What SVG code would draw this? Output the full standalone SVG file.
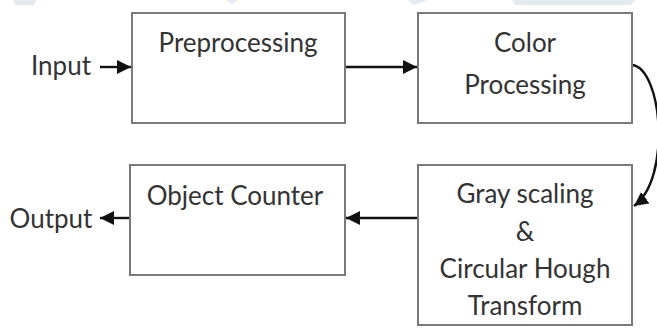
<svg xmlns="http://www.w3.org/2000/svg" width="657" height="329" viewBox="0 0 657 329">
<defs>
<style>
.box{fill:#fff;stroke:#7a7a7a;stroke-width:2}
.t{font-family:Lato,"Open Sans","Liberation Sans",sans-serif;font-size:26px;fill:#333;text-anchor:middle}
.c{fill:none;stroke:#111;stroke-width:2.4}
.wm{fill:#e3eaf0}
</style>
<marker id="ahb" viewBox="0 0 10 10" refX="10" refY="5" markerWidth="14" markerHeight="14" markerUnits="userSpaceOnUse" orient="auto">
<path d="M0,0 L10,5 L0,10 z" fill="#111"/>
</marker>
</defs>
<rect width="657" height="329" fill="#fff"/>
<g id="watermark">
<polygon class="wm" points="13,0 36,0 34,5 15,5"/>
<polygon class="wm" points="226,0 238,0 232,4"/>
<polygon class="wm" points="408,0 428,0 414,5"/>
<polygon class="wm" points="512,0 635,0 631,5 515,5"/>
</g>
<g id="connectors">
<line class="c" x1="100" y1="67" x2="131" y2="67" marker-end="url(#ahb)"/>
<line class="c" x1="345" y1="67" x2="417" y2="67" marker-end="url(#ahb)"/>
<path class="c" d="M632,65 C662,68 672,178 634,206" marker-end="url(#ahb)"/>
<line class="c" x1="418" y1="218" x2="346" y2="218" marker-end="url(#ahb)"/>
<line class="c" x1="130" y1="218" x2="100" y2="218" marker-end="url(#ahb)"/>
</g>
<g id="input"><text class="t" x="61" y="75">Input</text></g>
<g id="output"><text class="t" x="51" y="228">Output</text></g>
<g id="preprocessing">
<rect class="box" x="132" y="13" width="213" height="110"/>
<text class="t" x="238" y="52">Preprocessing</text>
</g>
<g id="color-processing">
<rect class="box" x="418" y="13" width="214" height="110"/>
<text class="t" x="525" y="52">Color</text>
<text class="t" x="525" y="94">Processing</text>
</g>
<g id="gray-scaling">
<rect class="box" x="418" y="165" width="214" height="160"/>
<text class="t" x="525" y="203">Gray scaling</text>
<text class="t" x="525" y="241">&amp;</text>
<text class="t" x="525" y="278">Circular Hough</text>
<text class="t" x="525" y="315">Transform</text>
</g>
<g id="object-counter">
<rect class="box" x="130" y="165" width="215" height="110"/>
<text class="t" x="235" y="205">Object Counter</text>
</g>
</svg>
